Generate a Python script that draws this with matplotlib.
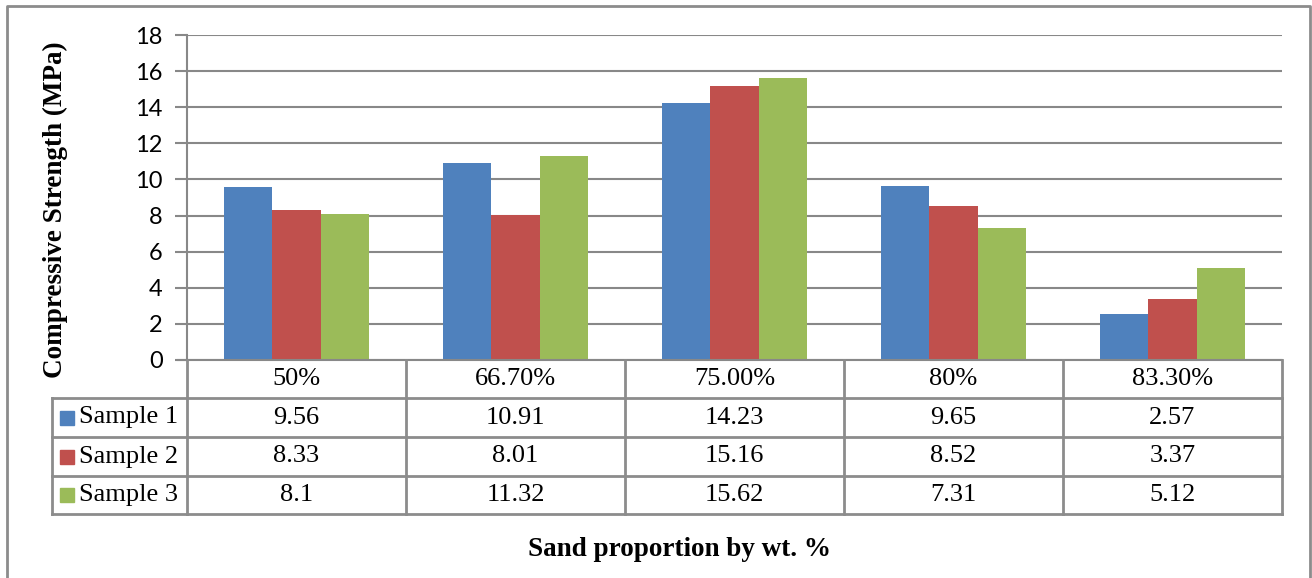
import matplotlib
matplotlib.use("Agg")
import matplotlib.pyplot as plt
from matplotlib.lines import Line2D
from matplotlib.patches import Rectangle
import matplotlib.transforms as mtransforms
import numpy as np

categories = ["50%", "66.70%", "75.00%", "80%", "83.30%"]
series_names = ["Sample 1", "Sample 2", "Sample 3"]
sample1 = [9.56, 10.91, 14.23, 9.65, 2.57]
sample2 = [8.33, 8.01, 15.16, 8.52, 3.37]
sample3 = [8.1, 11.32, 15.62, 7.31, 5.12]
series_labels = [["9.56", "10.91", "14.23", "9.65", "2.57"],
                 ["8.33", "8.01", "15.16", "8.52", "3.37"],
                 ["8.1", "11.32", "15.62", "7.31", "5.12"]]
colors = ["#4F81BD", "#C0504D", "#9BBB59"]
yticks = [0, 2, 4, 6, 8, 10, 12, 14, 16, 18]

W, H = 1312, 578
fig = plt.figure(figsize=(W / 100, H / 100), dpi=100)
fig.patch.set_facecolor("white")

grid_c = "#888888"

# plot area in pixel coordinates
x0, x1 = 187, 1282
ytop, ybot = 35, 360
ax = fig.add_axes([x0 / W, 1 - ybot / H, (x1 - x0) / W, (ybot - ytop) / H])
ax.set_xlim(-0.5, len(categories) - 0.5)
ax.set_ylim(0, 18)
ax.set_yticks(yticks)
ax.yaxis.grid(True, color=grid_c, linewidth=1.5)
ax.set_axisbelow(True)
for s in ["top", "right", "bottom"]:
    ax.spines[s].set_visible(False)
ax.spines["left"].set_color(grid_c)
ax.spines["left"].set_linewidth(1.5)
ax.tick_params(axis="y", length=9, width=1.5, color=grid_c, pad=8.5,
               labelsize=17)
for lab in ax.get_yticklabels():
    lab.set_fontfamily("Lato")
ax.set_xticks([])

series = [sample1, sample2, sample3]
bw = 0.222
x = np.arange(len(categories))
for i, (vals, c) in enumerate(zip(series, colors)):
    ax.bar(x + (i - 1) * bw, vals, width=bw, color=c, linewidth=0, zorder=3)

# data table under the plot
bt = mtransforms.blended_transform_factory(ax.transData, ax.transAxes)
ph = ybot - ytop
row_px = [360, 398, 437, 476, 514]
row_y = [(ybot - r) / ph for r in row_px]
lw = 2
tab_c = "#8c8c8c"
serif = "Liberation Serif"
fs = 19

def hline(xa, xb, y, transform):
    fig.add_artist(Line2D([xa, xb], [y, y], color=tab_c, lw=lw,
                          transform=transform, clip_on=False))

def vline(xv, ya, yb, transform):
    fig.add_artist(Line2D([xv, xv], [ya, yb], color=tab_c, lw=lw,
                          transform=transform, clip_on=False))

# axis baseline with its left tick
ax.plot([-0.5, len(categories) - 0.5], [0, 0], color=grid_c, lw=1.5,
        transform=bt, clip_on=False, zorder=4)
fig.add_artist(Line2D([178 / W, x0 / W], [1 - ybot / H] * 2, color=grid_c,
                      lw=1.5))

for j in range(len(categories) + 1):
    vline(j - 0.5, row_y[0], row_y[-1], bt)
for r in row_y[1:]:
    hline(-0.5, len(categories) - 0.5, r, bt)

# legend column (figure pixels)
ft = fig.transFigure
lx0 = 52 / W
for r in row_px[1:]:
    hline(lx0, x0 / W, 1 - r / H, ft)
vline(lx0, 1 - row_px[1] / H, 1 - row_px[-1] / H, ft)

for j, cat in enumerate(categories):
    ax.text(j, (row_y[0] + row_y[1]) / 2, cat, transform=bt, ha="center",
            va="center", fontsize=fs, family=serif)
for i in range(3):
    ymid = (row_y[i + 1] + row_y[i + 2]) / 2
    for j in range(len(categories)):
        ax.text(j, ymid, series_labels[i][j], transform=bt, ha="center",
                va="center", fontsize=fs, family=serif)
    ypx = (row_px[i + 1] + row_px[i + 2]) / 2
    fig.add_artist(Rectangle((60 / W, 1 - (ypx + 7) / H), 14 / W, 14 / H,
                             color=colors[i], transform=ft))
    fig.text(79 / W, 1 - ypx / H, series_names[i], ha="left", va="center",
             fontsize=fs, family=serif)

fig.text(55 / W, 1 - 210 / H, "Compressive Strength (MPa)", rotation=90,
         ha="center", va="center", fontsize=19.5, fontweight="bold",
         family=serif)
fig.text(680 / W, 1 - 550 / H, "Sand proportion by wt. %", ha="center",
         va="center", fontsize=19.5, fontweight="bold", family=serif)

# outer chart frame
fig.add_artist(Line2D([7 / W, 7 / W, 1310 / W, 1310 / W],
                      [0, 1 - 6 / H, 1 - 6 / H, 0], color="#8c8c8c", lw=2))

fig.savefig("out.png", dpi=100)
